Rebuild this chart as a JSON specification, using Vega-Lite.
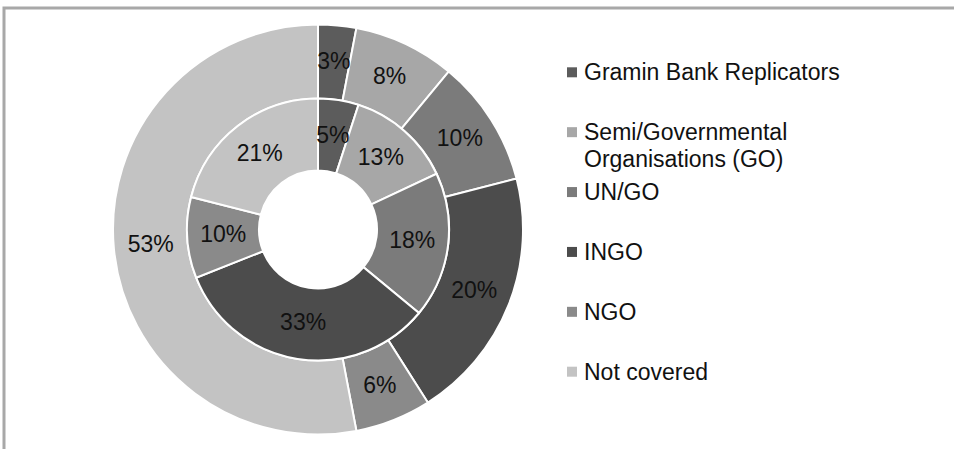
{
  "$schema": "https://vega.github.io/schema/vega-lite/v6.json",
  "width": 952,
  "height": 443,
  "autosize": {"type": "none"},
  "padding": {"left": 4, "top": 8, "right": 0, "bottom": 0},
  "background": "white",
  "config": {
    "view": {"stroke": "#a8a8a8", "strokeWidth": 3},
    "font": "Liberation Sans"
  },
  "data": {
    "values": [
      {"ring": "outer", "idx": 1, "category": "Gramin Bank Replicators", "value": 0.03},
      {"ring": "outer", "idx": 2, "category": "Semi/Governmental\nOrganisations (GO)", "value": 0.08},
      {"ring": "outer", "idx": 3, "category": "UN/GO", "value": 0.10},
      {"ring": "outer", "idx": 4, "category": "INGO", "value": 0.20},
      {"ring": "outer", "idx": 5, "category": "NGO", "value": 0.06},
      {"ring": "outer", "idx": 6, "category": "Not covered", "value": 0.53},
      {"ring": "inner", "idx": 1, "category": "Gramin Bank Replicators", "value": 0.05},
      {"ring": "inner", "idx": 2, "category": "Semi/Governmental\nOrganisations (GO)", "value": 0.13},
      {"ring": "inner", "idx": 3, "category": "UN/GO", "value": 0.18},
      {"ring": "inner", "idx": 4, "category": "INGO", "value": 0.33},
      {"ring": "inner", "idx": 5, "category": "NGO", "value": 0.10},
      {"ring": "inner", "idx": 6, "category": "Not covered", "value": 0.21}
    ]
  },
  "encoding": {
    "x": {
      "datum": "donut",
      "type": "nominal",
      "scale": {"type": "point", "domain": ["donut", "legend"], "range": [314, 568], "padding": 0},
      "axis": null
    },
    "color": {
      "field": "category",
      "type": "nominal",
      "scale": {
        "domain": ["Gramin Bank Replicators", "Semi/Governmental\nOrganisations (GO)", "UN/GO", "INGO", "NGO", "Not covered"],
        "range": ["#5c5c5c", "#a7a7a7", "#7b7b7b", "#4c4c4c", "#8a8a8a", "#c3c3c3"]
      },
      "legend": null
    }
  },
  "layer": [
    {
      "transform": [{"filter": "datum.ring === 'outer'"}],
      "mark": {"type": "arc", "radius": 205, "radius2": 131, "stroke": "white", "strokeWidth": 2},
      "encoding": {
        "theta": {"field": "value", "type": "quantitative", "stack": true},
        "order": {"field": "idx"}
      }
    },
    {
      "transform": [{"filter": "datum.ring === 'inner'"}],
      "mark": {"type": "arc", "radius": 131, "radius2": 59, "stroke": "white", "strokeWidth": 2},
      "encoding": {
        "theta": {"field": "value", "type": "quantitative", "stack": true},
        "order": {"field": "idx"}
      }
    },
    {
      "transform": [{"filter": "datum.ring === 'outer'"}],
      "mark": {"type": "text", "radius": 168, "fontSize": 23, "color": "#111111", "align": "center", "baseline": "middle"},
      "encoding": {
        "theta": {"field": "value", "type": "quantitative", "stack": true},
        "order": {"field": "idx"},
        "text": {"field": "value", "type": "quantitative", "format": ".0%"},
        "color": {"value": "#111111"}
      }
    },
    {
      "transform": [{"filter": "datum.ring === 'inner'"}],
      "mark": {"type": "text", "radius": 95, "fontSize": 23, "color": "#111111", "align": "center", "baseline": "middle"},
      "encoding": {
        "theta": {"field": "value", "type": "quantitative", "stack": true},
        "order": {"field": "idx"},
        "text": {"field": "value", "type": "quantitative", "format": ".0%"},
        "color": {"value": "#111111"}
      }
    },
    {
      "transform": [{"filter": "datum.ring === 'outer'"}],
      "mark": {"type": "square", "size": 100, "opacity": 1},
      "encoding": {
        "x": {"datum": "legend", "type": "nominal"},
        "y": {
          "field": "category",
          "type": "nominal",
          "sort": {"field": "idx", "op": "min"},
          "scale": {"type": "point", "range": [64.3, 363.7], "padding": 0},
          "axis": null
        }
      }
    },
    {
      "transform": [{"filter": "datum.ring === 'outer'"}],
      "mark": {"type": "text", "fontSize": 23, "align": "left", "baseline": "alphabetic", "dx": 12, "dy": 8, "lineBreak": "\n", "lineHeight": 27, "color": "#111111"},
      "encoding": {
        "x": {"datum": "legend", "type": "nominal"},
        "y": {
          "field": "category",
          "type": "nominal",
          "sort": {"field": "idx", "op": "min"},
          "axis": null
        },
        "text": {"field": "category", "type": "nominal"},
        "color": {"value": "#111111"}
      }
    }
  ]
}
